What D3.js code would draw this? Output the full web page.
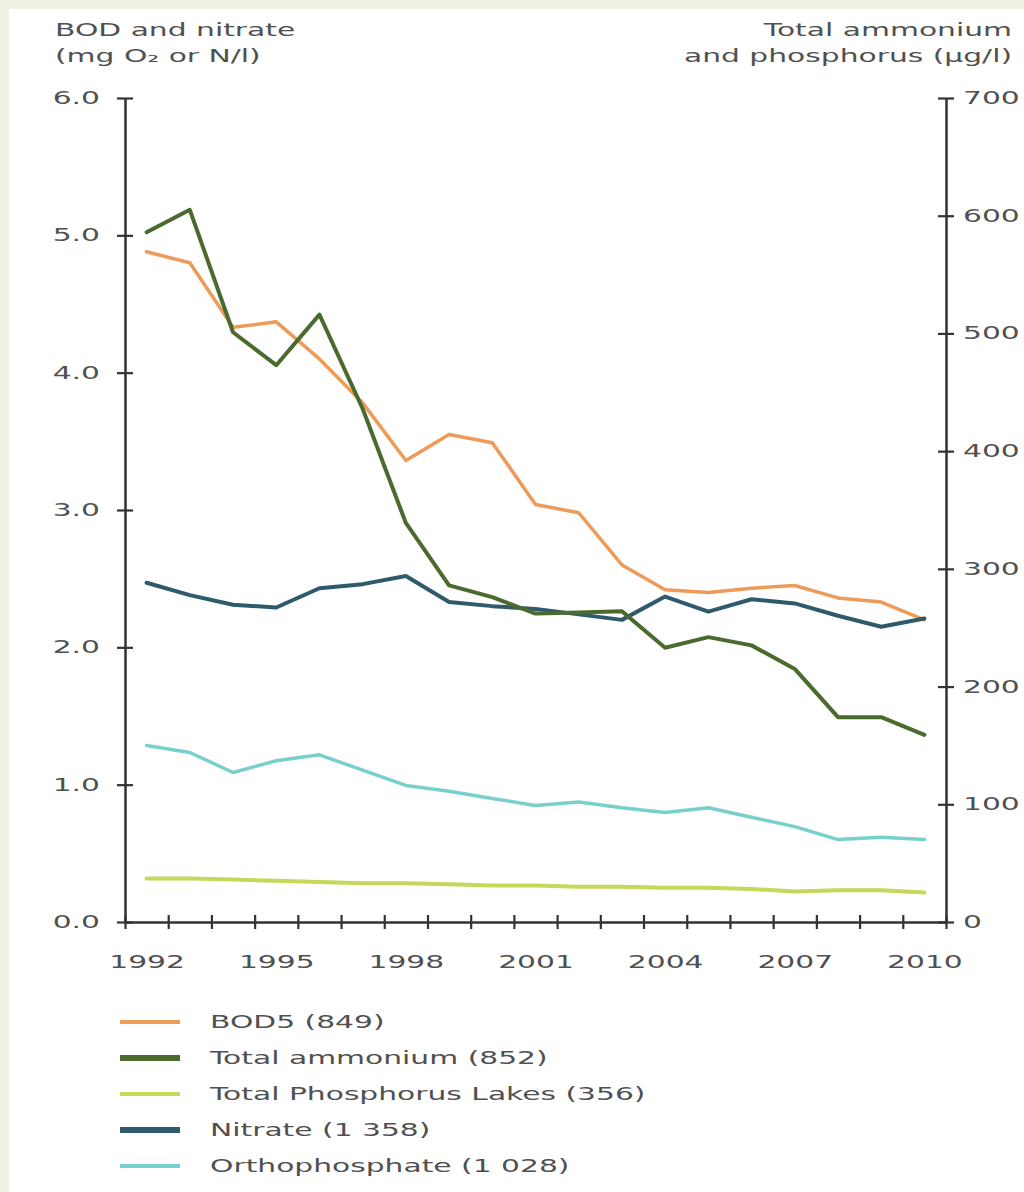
<!DOCTYPE html>
<html>
<head>
<meta charset="utf-8">
<script src="https://cdn.jsdelivr.net/npm/d3@7"></script>
<style>
  html, body { margin: 0; padding: 0; background: #eef1e4; }
  svg { display: block; }
  text { font-family: "DejaVu Sans", Verdana, sans-serif; fill: #505050; }
</style>
</head>
<body>
<div id="chart"></div>
<script>
/**
 * Chart data
 */
var years = [1992, 1993, 1994, 1995, 1996, 1997, 1998, 1999, 2000, 2001,
             2002, 2003, 2004, 2005, 2006, 2007, 2008, 2009, 2010];

// left axis (mg O2 or N/l)
var bod5    = [4.88, 4.80, 4.33, 4.37, 4.10, 3.78, 3.36, 3.55, 3.49, 3.04,
               2.98, 2.60, 2.42, 2.40, 2.43, 2.45, 2.36, 2.33, 2.20];
var nitrate = [2.47, 2.38, 2.31, 2.29, 2.43, 2.46, 2.52, 2.33, 2.30, 2.28,
               2.24, 2.20, 2.37, 2.26, 2.35, 2.32, 2.23, 2.15, 2.21];

// right axis (ug/l)
var ammonium        = [586, 605, 501, 473, 516, 436, 339, 286, 276, 262,
                       263, 264, 233, 242, 235, 215, 174, 174, 159];
var phosphorusLakes = [37, 37, 36, 35, 34, 33, 33, 32, 31, 31,
                       30, 30, 29, 29, 28, 26, 27, 27, 25];
var orthophosphate  = [150, 144, 127, 137, 142, 129, 116, 111, 105, 99,
                       102, 97, 93, 97, 89, 81, 70, 72, 70];

var leftTicks  = [0, 1, 2, 3, 4, 5, 6];
var rightTicks = [0, 100, 200, 300, 400, 500, 600, 700];
var yearLabels = [1992, 1995, 1998, 2001, 2004, 2007, 2010];

var legendLabels = ["BOD5 (849)", "Total ammonium (852)", "Total Phosphorus Lakes (356)",
                    "Nitrate (1 358)", "Orthophosphate (1 028)"];

/**
 * Series setup. Drawn in this order so ammonium sits on top like the original.
 */
var series = [
  {values: phosphorusLakes, axis: "right", color: "#c6d75a", width: 4},
  {values: orthophosphate,  axis: "right", color: "#78d0cd", width: 3.5},
  {values: bod5,            axis: "left",  color: "#ee9a58", width: 3.5},
  {values: nitrate,         axis: "left",  color: "#2f5a6c", width: 4},
  {values: ammonium,        axis: "right", color: "#4a6a2e", width: 4}
];
var legendColors = ["#ee9a58", "#4a6a2e", "#c6d75a", "#2f5a6c", "#78d0cd"];
var legendWidths = [4, 6, 4, 6, 4];

var W = 1024, H = 1192;
var SX = 1.75;   // the original text is stretched sideways
var plot = {left: 125, right: 946, top: 98, bottom: 922};

// stretch text horizontally but keep its anchor point where it was
function stretch(sel) {
  sel.each(function() {
    var t = d3.select(this);
    var x = +t.attr("x") || 0;
    t.attr("x", x / SX).attr("transform", "scale(" + SX + ",1)");
  });
}

function label(g, x, y, str, anchor) {
  g.append("text")
    .attr("transform", "translate(" + x + "," + y + ") scale(" + SX + ",1)")
    .attr("text-anchor", anchor || "start")
    .style("font-size", "17px")
    .text(str);
}

var svg = d3.select("#chart").append("svg")
  .attr("width", W)
  .attr("height", H);

svg.append("rect")
  .attr("x", 9).attr("y", 9)
  .attr("width", W - 9).attr("height", H - 9)
  .attr("fill", "#ffffff");

var x = d3.scaleLinear().domain([1991.5, 2010.5]).range([plot.left, plot.right]);
var yL = d3.scaleLinear().domain([0, 6]).range([plot.bottom, plot.top]);
var yR = d3.scaleLinear().domain([0, 700]).range([plot.bottom, plot.top]);

// axis titles
label(svg, 55, 36, "BOD and nitrate");
label(svg, 55, 62, "(mg O\u2082 or N/l)");
label(svg, 1012, 36, "Total ammonium", "end");
label(svg, 1012, 62, "and phosphorus (\u00b5g/l)", "end");

// lines
var chart = svg.append("g");
series.forEach(function(s) {
  var yScale = s.axis == "left" ? yL : yR;
  var line = d3.line()
    .x(function(d, i) { return x(years[i]); })
    .y(function(d) { return yScale(d); });
  chart.append("path")
    .datum(s.values)
    .attr("d", line)
    .attr("fill", "none")
    .attr("stroke", s.color)
    .attr("stroke-width", s.width)
    .attr("stroke-linejoin", "round")
    .attr("stroke-linecap", "round");
});

// axes
function styleAxis(g) {
  g.select(".domain").attr("stroke", "#333").attr("stroke-width", 2.5);
  g.selectAll(".tick line").attr("stroke", "#333").attr("stroke-width", 2.2);
  g.selectAll(".tick text").style("font-size", "17px").attr("fill", "#505050");
}

var gL = svg.append("g")
  .attr("transform", "translate(" + plot.left + ",0)")
  .call(d3.axisLeft(yL).tickValues(leftTicks).tickFormat(d3.format(".1f"))
        .tickSizeOuter(0).tickSizeInner(0).tickPadding(25));
gL.selectAll(".tick line").attr("x1", -8).attr("x2", 8);
styleAxis(gL);
stretch(gL.selectAll(".tick text"));

var gR = svg.append("g")
  .attr("transform", "translate(" + plot.right + ",0)")
  .call(d3.axisRight(yR).tickValues(rightTicks)
        .tickSizeOuter(0).tickSizeInner(0).tickPadding(17));
gR.selectAll(".tick line").attr("x1", -8).attr("x2", 8);
styleAxis(gR);
stretch(gR.selectAll(".tick text"));

// x axis: ticks between the years, labels every third year
var gX = svg.append("g")
  .attr("transform", "translate(0," + plot.bottom + ")")
  .call(d3.axisBottom(x).tickValues(d3.range(1991.5, 2011, 1))
        .tickFormat("").tickSizeOuter(0).tickSizeInner(0));
gX.selectAll(".tick line").attr("y1", -7).attr("y2", 7);
styleAxis(gX);

var gXL = svg.append("g")
  .attr("transform", "translate(0," + plot.bottom + ")")
  .call(d3.axisBottom(x).tickValues(yearLabels).tickFormat(d3.format("d"))
        .tickSizeOuter(0).tickSizeInner(0).tickPadding(34));
gXL.select(".domain").remove();
styleAxis(gXL);
stretch(gXL.selectAll(".tick text"));

// legend
var legend = svg.append("g").attr("transform", "translate(120,1022)");
legendLabels.forEach(function(name, i) {
  var row = legend.append("g").attr("transform", "translate(0," + (i * 36) + ")");
  row.append("line")
    .attr("x1", 0).attr("x2", 60)
    .attr("stroke", legendColors[i])
    .attr("stroke-width", legendWidths[i]);
  label(row, 90, 6, name);
});
</script>
</body>
</html>
